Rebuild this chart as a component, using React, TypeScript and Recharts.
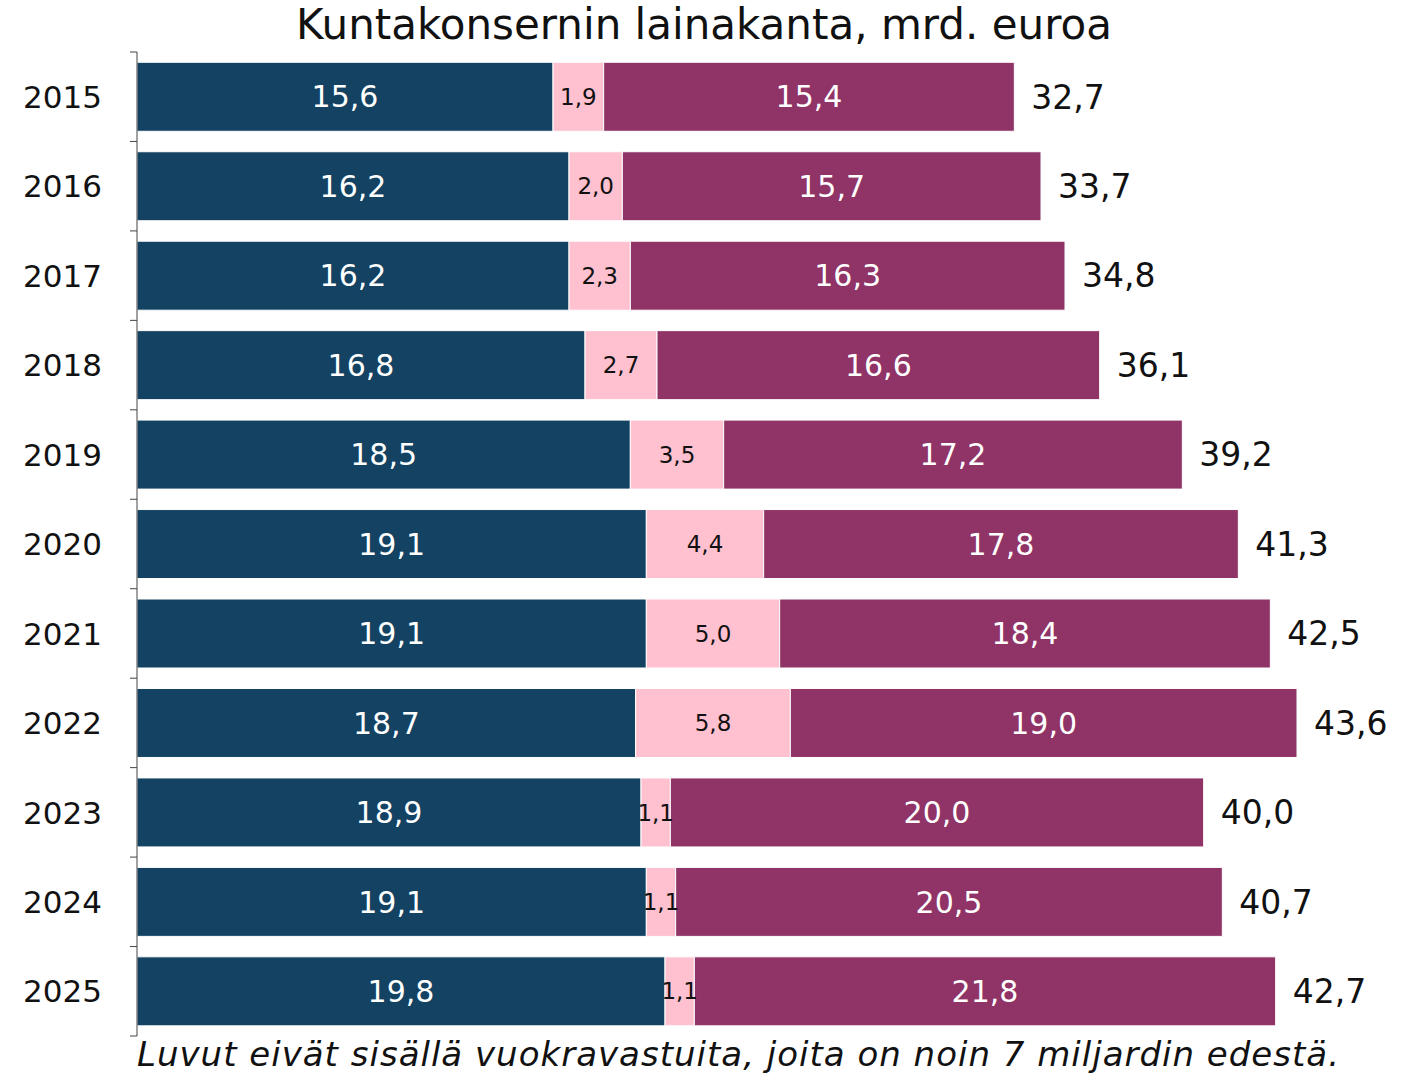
import React from 'react';
import { BarChart, Bar, XAxis, YAxis, LabelList } from 'recharts';

// Kuntakonsernin lainakanta, mrd. euroa
const years = ['2015', '2016', '2017', '2018', '2019', '2020', '2021', '2022', '2023', '2024', '2025'];
const blueVals = [15.6, 16.2, 16.2, 16.8, 18.5, 19.1, 19.1, 18.7, 18.9, 19.1, 19.8];
const pinkVals = [1.9, 2.0, 2.3, 2.7, 3.5, 4.4, 5.0, 5.8, 1.1, 1.1, 1.1];
const purpleVals = [15.4, 15.7, 16.3, 16.6, 17.2, 17.8, 18.4, 19.0, 20.0, 20.5, 21.8];
const totals = [32.7, 33.7, 34.8, 36.1, 39.2, 41.3, 42.5, 43.6, 40.0, 40.7, 42.7];

const colours = { blue: '#134263', pink: '#ffc0cf', purple: '#903366' };
const font = '"DejaVu Sans", sans-serif';

const data = years.map((year, i) => ({
  year,
  blue: blueVals[i],
  pink: pinkVals[i],
  purple: purpleVals[i],
  total: totals[i],
}));

const W = 1408;
const H = 1073;
const TOP = 52;
const BOTTOM = 37;
const band = (H - TOP - BOTTOM) / years.length;

const fmt = (v: any) => String(v.toFixed(1)).replace('.', ',');

// year label + tick marks at the category boundaries
const YearTick = (props: any) => {
  const { x, y, payload, index } = props;
  const last = index === years.length - 1;
  return (
    <g>
      <line x1={x + 1} x2={x + 8} y1={y - band / 2} y2={y - band / 2} stroke="#444" strokeWidth={1} />
      {last && <line x1={x + 1} x2={x + 8} y1={y + band / 2} y2={y + band / 2} stroke="#444" strokeWidth={1} />}
      <text x={102} y={y} dy="0.36em" textAnchor="end" fontSize={31} fill="#111" fontFamily={font}>
        {payload.value}
      </text>
    </g>
  );
};

export default function App() {
  return (
    <div style={{ position: 'absolute', left: 0, top: 0, width: W, height: H, background: '#fff', fontFamily: font }}>
      <div style={{ position: 'absolute', top: 0, left: 0, width: W, textAlign: 'center', fontSize: 42, lineHeight: '50px', color: '#111' }}>
        Kuntakonsernin lainakanta, mrd. euroa
      </div>
      <BarChart
        width={W}
        height={H}
        data={data}
        layout="vertical"
        margin={{ top: TOP, right: 71, bottom: BOTTOM, left: 0 }}
        barCategoryGap="11.5%"
      >
        <XAxis type="number" domain={[0, 45]} hide />
        <YAxis
          type="category"
          dataKey="year"
          width={137}
          tickLine={false}
          axisLine={{ stroke: '#444', strokeWidth: 1 }}
          tick={<YearTick />}
        />
        <Bar dataKey="blue" stackId="a" fill={colours.blue} stroke="#fff" strokeWidth={1} isAnimationActive={false}>
          <LabelList dataKey="blue" position="center" formatter={fmt} fill="#fff" fontSize={30} fontFamily={font} />
        </Bar>
        <Bar dataKey="pink" stackId="a" fill={colours.pink} stroke="#fff" strokeWidth={1} isAnimationActive={false}>
          <LabelList dataKey="pink" position="center" formatter={fmt} fill="#111" fontSize={23} fontFamily={font} />
        </Bar>
        <Bar dataKey="purple" stackId="a" fill={colours.purple} stroke="#fff" strokeWidth={1} isAnimationActive={false}>
          <LabelList dataKey="purple" position="center" formatter={fmt} fill="#fff" fontSize={30} fontFamily={font} />
          <LabelList dataKey="total" position="right" offset={17} formatter={fmt} fill="#111" fontSize={33} fontFamily={font} />
        </Bar>
      </BarChart>
      <div style={{ position: 'absolute', left: 137, top: 1034, fontSize: 34, letterSpacing: 1, fontStyle: 'italic', color: '#111', whiteSpace: 'nowrap', lineHeight: '40px' }}>
        Luvut eivät sisällä vuokravastuita, joita on noin 7 miljardin edestä.
      </div>
    </div>
  );
}
